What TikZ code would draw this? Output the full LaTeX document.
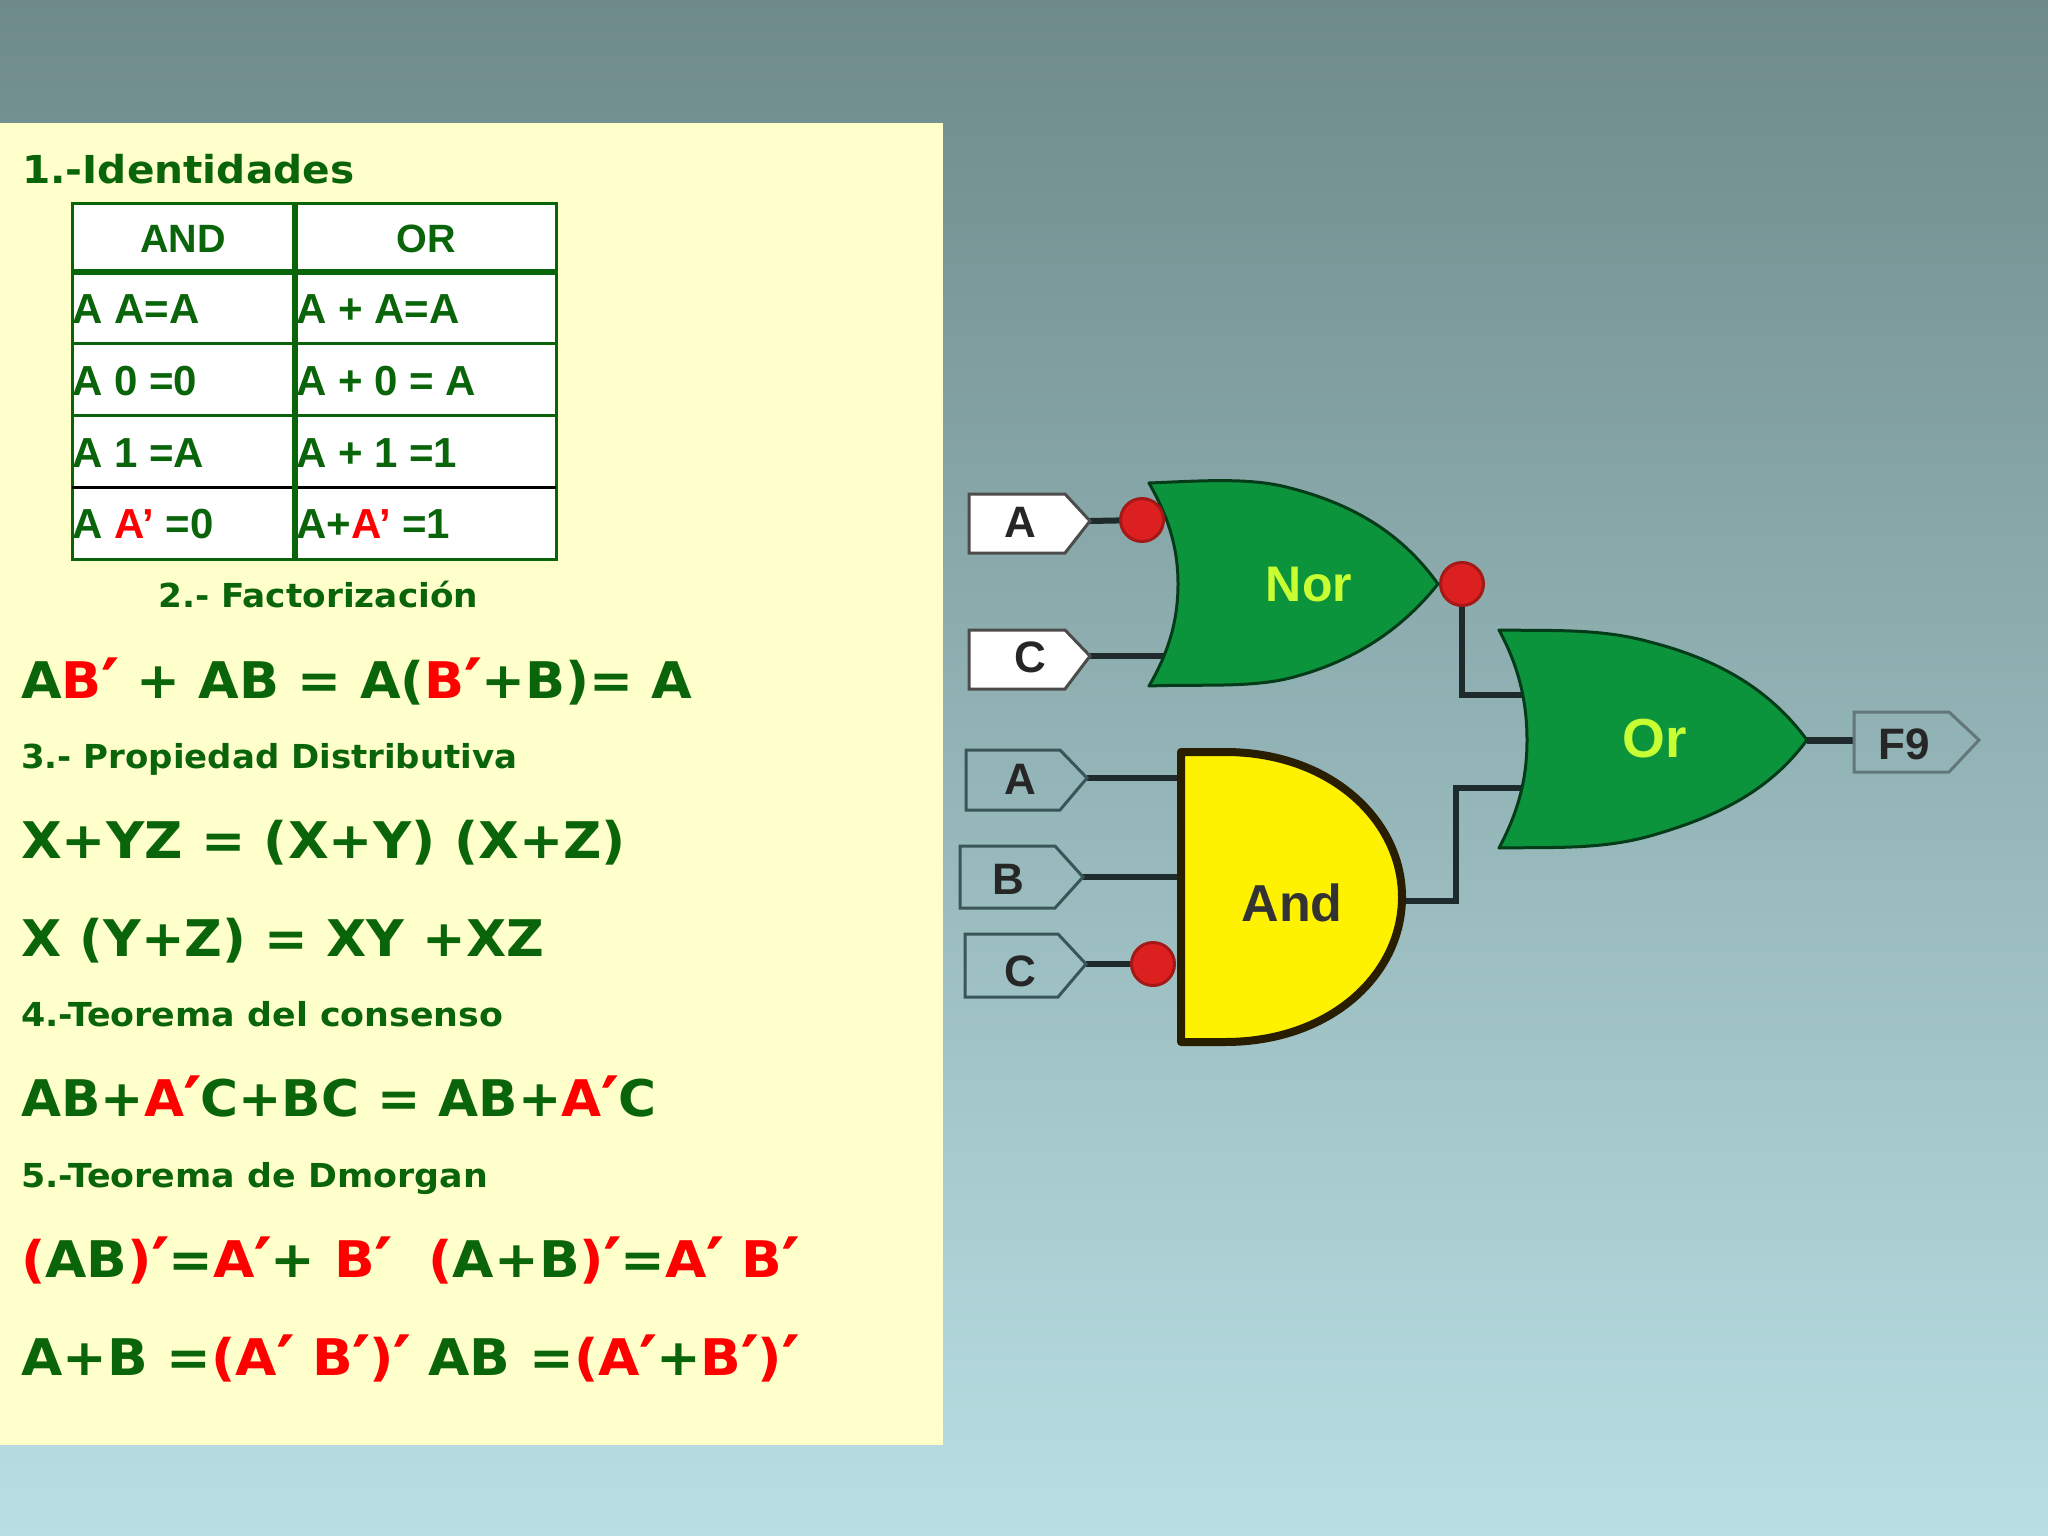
\documentclass[tikz,border=0pt]{standalone}
\usepackage{fontspec}
\setmainfont{DejaVu Sans}
\newfontfamily\arl{Liberation Sans Bold}
\newfontfamily\vbh{DejaVu Sans Bold}[FakeStretch=1.056]
\newfontfamily\vbt{DejaVu Sans Bold}[FakeStretch=1.03]
\newfontfamily\vbf{DejaVu Sans Bold}[FakeStretch=1.04]
\newfontfamily\vbb{DejaVu Sans Bold}[FakeStretch=1.04]
\newfontfamily\vbc{DejaVu Sans Bold}[FakeStretch=1.047]
\newfontfamily\vbd{DejaVu Sans Bold}[FakeStretch=1.032]
\newfontfamily\vbe{DejaVu Sans Bold}[FakeStretch=1.025]
\newfontfamily\vbg{DejaVu Sans Bold}[FakeStretch=1.058]
\newfontfamily\prf{DejaVu Sans Bold}[FakeBold=1.5]
\definecolor{txtg}{HTML}{0A640A}
\definecolor{panel}{HTML}{FFFFCC}
\definecolor{gateg}{HTML}{0B943C}
\definecolor{lime}{HTML}{C8FF32}
\definecolor{wirec}{HTML}{1E2A2C}
\definecolor{bub}{HTML}{DC2020}
\definecolor{bgtop}{HTML}{6E8A8A}
\definecolor{bgbot}{HTML}{B9DFE4}
\definecolor{tagline}{HTML}{3A5558}
\definecolor{anddark}{HTML}{2A1E00}
\newcommand{\rd}[1]{\textcolor{red}{#1}}
\newcommand{\pr}{\raisebox{-5pt}{\prf\fontsize{62}{62}\selectfont ′}}
\newcommand{\af}[1]{\arl\fontsize{#1}{#1}\selectfont}
\newcommand{\bsz}{\fontsize{50.5}{50.5}\selectfont}
\newcommand{\hsz}{\fontsize{33}{33}\selectfont}
\tikzset{
  x=1pt,y=-1pt,
  line/.style={anchor=base west,inner sep=0pt,text=txtg},
  big/.style={line,font=\vbb\bsz},
  head/.style={line,font=\vbh\hsz},
  cell/.style={anchor=base west,inner sep=0pt,text=txtg,font=\af{42}},
  tline/.style={draw=txtg,line width=3pt},
  tthick/.style={draw=txtg,line width=6pt},
  wire/.style={draw=wirec,line width=6pt},
  gateor/.style={fill=gateg,draw=black!60!gateg,line width=3pt,line join=round},
  bubble/.style={circle,fill=bub,draw=black!25!bub,line width=3pt,minimum size=43pt,inner sep=0pt},
  tagw/.style={fill=white,draw=black!70,line width=3pt},
  tago/.style={draw=tagline,line width=3pt},
  taglab/.style={inner sep=0pt,text=black!85,font=\af{44}}
}
\begin{document}
\begin{tikzpicture}
\useasboundingbox (0,0) rectangle (2048,1536);
\shade[top color=bgtop,bottom color=bgbot] (0,0) rectangle (2048,1536);
\fill[panel] (0,123) rectangle (943,1445);
% table
\fill[white] (72,203) rectangle (556,559);
\draw[tline] (72,203) rectangle (556,559);
\draw[tthick] (72,272) -- (556,272);
\draw[tline] (72,343) -- (556,343);
\draw[tline] (72,415) -- (556,415);
\draw[draw=black,line width=3pt] (72,487) -- (556,487);
\draw[tthick] (295,203) -- (295,559);
\node[line,font=\vbh\fontsize{38.5}{38.5}\selectfont] (t1) at (22,183) {1.-Identidades};
\node[cell,anchor=base,font=\af{39.5}] (c00) at (183,252) {AND};
\node[cell,anchor=base,font=\af{39.5}] (c01) at (426,252) {OR};
\node[cell] (c10) at (72,323) {A A=A};
\node[cell] (c11) at (296,323) {A + A=A};
\node[cell] (c20) at (72,395) {A 0 =0};
\node[cell] (c21) at (296,395) {A + 0 = A};
\node[cell] (c30) at (72,467) {A 1 =A};
\node[cell] (c31) at (296,467) {A + 1 =1};
\node[cell] (c40) at (72,538) {A \rd{A’} =0};
\node[cell] (c41) at (296,538) {A+\rd{A’} =1};
\node[head,font=\vbf\hsz] (t2) at (158,607) {2.- Factorización};
\node[big] (e1) at (21,698) {A\rd{B\pr} + AB = A(\rd{B\pr}+B)= A};
\node[head,font=\vbt\hsz] (t3) at (21,768) {3.- Propiedad Distributiva};
\node[big,font=\vbc\bsz] (e2) at (21,858) {X+YZ = (X+Y) (X+Z)};
\node[big,font=\vbd\bsz] (e3) at (21,956) {X (Y+Z) = XY +XZ};
\node[head] (t4) at (21,1026) {4.-Teorema del consenso};
\node[big,font=\vbe\bsz] (e4) at (21,1116) {AB+\rd{A\pr}C+BC = AB+\rd{A\pr}C};
\node[head] (t5) at (21,1187) {5.-Teorema de Dmorgan};
\node[big,font=\vbg\bsz] (e5) at (21,1277) {\rd{(}AB\rd{)\pr}=\rd{A\pr}+ \rd{B\pr}\ \ \rd{(}A+B\rd{)\pr}=\rd{A\pr{} B\pr}};
\node[big,font=\vbg\bsz] (e6) at (21,1375) {A+B =\rd{(A\pr{} B\pr)\pr} AB =\rd{(A\pr}+\rd{B\pr)\pr}};
% ports
\coordinate (tagA1) at (1090,521);
\coordinate (tagC1) at (1090,656);
\coordinate (tagA2) at (1087,778);
\coordinate (tagB2) at (1083,877);
\coordinate (tagC2) at (1086,964);
\coordinate (norC) at (1170,656);
\coordinate (andA) at (1181,778);
\coordinate (andB) at (1181,877);
\coordinate (andOut) at (1402,901);
\coordinate (orIn1) at (1528,695);
\coordinate (orIn2) at (1528,788);
\coordinate (orOut) at (1807,740);
\coordinate (tagF) at (1854,740);
\coordinate (bendAnd) at (1456,788);
\coordinate (ctrA) at (1142,520);
\coordinate (ctrN) at (1462,584);
\coordinate (ctrC) at (1153,964);
% wires
\draw[wire] (tagA1) -- (ctrA);
\draw[wire] (tagC1) -- (norC);
\draw[wire] (tagA2) -- (andA);
\draw[wire] (tagB2) -- (andB);
\draw[wire] (tagC2) -- (ctrC);
\draw[wire] (ctrN) |- (orIn1);
\draw[wire] (andOut) -| (bendAnd) -- (orIn2);
\draw[wire,line width=7pt] (orOut) -- (tagF);
% Nor gate
\draw[gateor] (1149,483) .. controls (1170,520) and (1178,550) .. (1178,584)
  .. controls (1178,618) and (1170,650) .. (1149,686)
  .. controls (1200,684) and (1250,688) .. (1290,678)
  .. controls (1360,660) and (1405,625) .. (1438,584)
  .. controls (1405,538) and (1360,506) .. (1290,488)
  .. controls (1250,477) and (1200,481) .. (1149,483) -- cycle;
\node[inner sep=0pt,text=lime,font=\af{50}] (nor) at (1309,585) {Nor};
% Or gate
\draw[gateor] (1499,630) .. controls (1518,665) and (1527,700) .. (1527,740)
  .. controls (1527,780) and (1518,812) .. (1499,848)
  .. controls (1550,847) and (1600,850) .. (1650,836)
  .. controls (1720,816) and (1770,790) .. (1807,740)
  .. controls (1770,690) and (1720,660) .. (1650,642)
  .. controls (1600,628) and (1550,631) .. (1499,630) -- cycle;
\node[inner sep=0pt,text=lime,font=\af{55}] (or) at (1655,739) {Or};
% And gate
\draw[fill=yellow,draw=anddark,line width=8pt,line join=round] (1181,752) -- (1225,752)
  .. controls (1330,752) and (1402,820) .. (1402,897)
  .. controls (1402,975) and (1330,1042) .. (1225,1042) -- (1181,1042) -- cycle;
\node[inner sep=0pt,text=black!80,font=\af{52}] (and) at (1292,903) {And};
% bubbles
\node[bubble] (bA) at (ctrA) {};
\node[bubble] (bN) at (ctrN) {};
\node[bubble] (bC) at (ctrC) {};
% tags
\draw[tagw] (969,494) -- (1065,494) -- (tagA1) -- (1065,553) -- (969,553) -- cycle;
\node[taglab] (la1) at (1020,522) {A};
\draw[tagw] (969,630) -- (1065,630) -- (tagC1) -- (1065,689) -- (969,689) -- cycle;
\node[taglab] (lc1) at (1030,657) {C};
\draw[tago] (966,750) -- (1060,750) -- (tagA2) -- (1060,810) -- (966,810) -- cycle;
\node[taglab] (la2) at (1020,779) {A};
\draw[tago] (960,846) -- (1055,846) -- (tagB2) -- (1055,908) -- (960,908) -- cycle;
\node[taglab] (lb2) at (1008,879) {B};
\draw[tago] (965,934) -- (1058,934) -- (tagC2) -- (1058,997) -- (965,997) -- cycle;
\node[taglab] (lc2) at (1020,971) {C};
\draw[tago,draw=tagline!80] (tagF) |- (1949,712) -- (1979,740) -- (1949,772) -| (tagF);
\node[taglab] (f9) at (1904,744) {F9};
\end{tikzpicture}
\end{document}
